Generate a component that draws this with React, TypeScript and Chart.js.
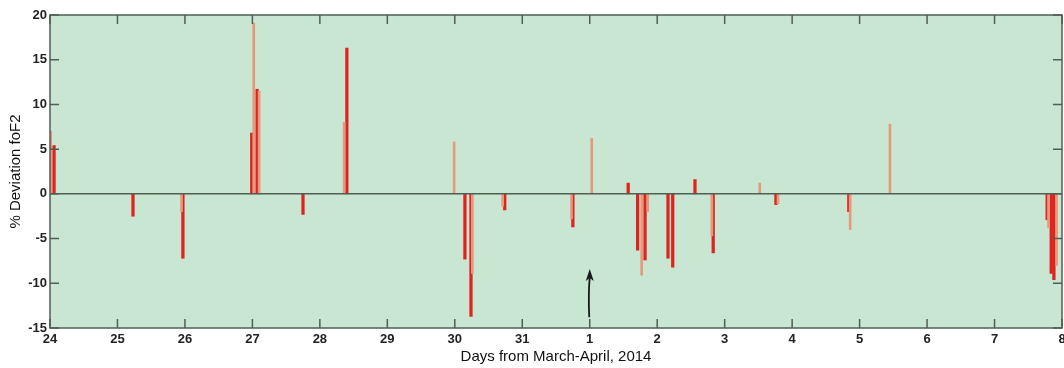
import React, { useEffect, useRef } from "react";
import { Chart, registerables } from "chart.js";

Chart.register(...registerables);

// Day labels for x = 0 .. 15 (0 = 24 March 2014)
const dayLabels = ["24", "25", "26", "27", "28", "29", "30", "31", "1", "2", "3", "4", "5", "6", "7", "8"];
const yTicks = [-15, -10, -5, 0, 5, 10, 15, 20];

// Strong red deviations (time in days from 24 March, value in %)
const redTimes = [0.06, 1.23, 1.97, 2.99, 3.07, 3.75, 4.40, 6.15, 6.24, 6.74, 7.75, 8.57, 8.71, 8.82, 9.16, 9.23, 9.56, 9.83, 10.76, 11.84, 14.78, 14.84, 14.88];
const redValues = [5.4, -2.5, -7.2, 6.8, 11.7, -2.3, 16.3, -7.3, -13.7, -1.8, -3.7, 1.2, -6.3, -7.4, -7.2, -8.2, 1.6, -6.6, -1.2, -2.0, -2.9, -8.9, -9.6];

// Lighter (salmon) deviations
const lightTimes = [0.01, 1.95, 3.02, 3.10, 4.36, 5.99, 6.26, 6.71, 7.73, 8.03, 8.77, 8.86, 9.81, 10.52, 10.79, 11.86, 12.45, 14.80, 14.92];
const lightValues = [7.0, -2.0, 19.1, 11.5, 8.0, 5.8, -8.9, -1.4, -2.8, 6.2, -9.1, -2.0, -4.7, 1.2, -1.1, -4.0, 7.8, -3.8, -8.0];

// Arrow marking 1 April
const arrowDay = 8;
const arrowFrom = -13.8;
const arrowTo = -8.4;

const BG = "#c9e6d3";
const AXIS = "#4f5f53";
const RED = "#e0231e";
const LIGHT = "#e69a7c";

const framePlugin = {
  id: "frame",
  beforeDatasetsDraw(chart: any) {
    const { ctx, chartArea } = chart;
    ctx.save();
    ctx.fillStyle = BG;
    ctx.fillRect(chartArea.left, chartArea.top, chartArea.right - chartArea.left, chartArea.bottom - chartArea.top);
    ctx.restore();
  },
  afterDatasetsDraw(chart: any) {
    const { ctx, chartArea, scales } = chart;
    const { left, right, top, bottom } = chartArea;
    const xs = scales.x;
    const ys = scales.y;
    ctx.save();
    ctx.strokeStyle = AXIS;
    ctx.lineWidth = 1.5;
    // zero line
    const y0 = ys.getPixelForValue(0);
    ctx.beginPath();
    ctx.moveTo(left, y0);
    ctx.lineTo(right, y0);
    ctx.stroke();
    // box
    ctx.strokeRect(left, top, right - left, bottom - top);
    // inside ticks
    const tl = 9;
    ctx.beginPath();
    for (let i = 0; i < dayLabels.length; i++) {
      const px = xs.getPixelForValue(i);
      ctx.moveTo(px, bottom);
      ctx.lineTo(px, bottom - tl);
      ctx.moveTo(px, top);
      ctx.lineTo(px, top + tl);
    }
    for (const v of yTicks) {
      const py = ys.getPixelForValue(v);
      ctx.moveTo(left, py);
      ctx.lineTo(left + tl, py);
      ctx.moveTo(right, py);
      ctx.lineTo(right - tl, py);
    }
    ctx.stroke();
    // arrow
    const ax = xs.getPixelForValue(arrowDay);
    const ay1 = ys.getPixelForValue(arrowFrom);
    const ay2 = ys.getPixelForValue(arrowTo);
    ctx.strokeStyle = "#1a1a1a";
    ctx.fillStyle = "#1a1a1a";
    ctx.lineWidth = 1.8;
    ctx.beginPath();
    ctx.moveTo(ax - 0.5, ay1);
    ctx.quadraticCurveTo(ax - 1.5, (ay1 + ay2) / 2, ax, ay2 + 8);
    ctx.stroke();
    ctx.beginPath();
    ctx.moveTo(ax, ay2);
    ctx.lineTo(ax - 4, ay2 + 12);
    ctx.lineTo(ax, ay2 + 9);
    ctx.lineTo(ax + 4, ay2 + 12);
    ctx.closePath();
    ctx.fill();
    ctx.restore();
  },
};

export default function App() {
  const ref = useRef<HTMLCanvasElement | null>(null);
  useEffect(() => {
    if (!ref.current) return;
    const chart = new Chart(ref.current, {
      type: "bar",
      data: {
        datasets: [
          {
            label: "light",
            data: lightTimes.map((t, i) => ({ x: t, y: lightValues[i] })),
            backgroundColor: LIGHT,
            barThickness: 2,
            grouped: false,
          } as any,
          {
            label: "red",
            data: redTimes.map((t, i) => ({ x: t, y: redValues[i] })),
            backgroundColor: RED,
            barThickness: 2.6,
            grouped: false,
          } as any,
        ],
      },
      options: {
        animation: false,
        responsive: false,
        maintainAspectRatio: false,
        layout: { padding: { left: 0, right: 2, top: 15, bottom: 0 } },
        plugins: { legend: { display: false }, tooltip: { enabled: false } },
        scales: {
          x: {
            type: "linear",
            min: 0,
            max: 15,
            offset: false,
            grid: { display: false, offset: false, drawTicks: false },
            border: { display: false },
            ticks: {
              stepSize: 1,
              autoSkip: false,
              maxRotation: 0,
              padding: 4,
              color: "#222",
              font: { family: "Liberation Sans", size: 13, weight: "bold" },
              callback: (v: any) => dayLabels[Number(v)] ?? "",
            },
            title: {
              display: true,
              text: "Days from March-April, 2014",
              color: "#111",
              font: { family: "Liberation Sans", size: 15 },
              padding: { top: 0, bottom: 2 },
            },
            afterFit: (s: any) => {
              s.height = 40;
              s.paddingLeft = 0;
              s.paddingRight = 0;
            },
          },
          y: {
            min: -15,
            max: 20,
            grid: { display: false, drawTicks: false },
            border: { display: false },
            ticks: {
              stepSize: 5,
              padding: 3,
              color: "#222",
              font: { family: "Liberation Sans", size: 13, weight: "bold" },
            },
            title: {
              display: true,
              text: "% Deviation foF2",
              color: "#111",
              font: { family: "Liberation Sans", size: 15 },
              padding: { top: 7, bottom: 0 },
            },
            afterFit: (s: any) => {
              s.width = 50;
              s.paddingTop = 0;
              s.paddingBottom = 0;
            },
          },
        },
      },
      plugins: [framePlugin],
    });
    return () => chart.destroy();
  }, []);
  return (
    <div style={{ position: "absolute", left: 0, top: 0, width: 1064, height: 368, background: "#fff" }}>
      <canvas ref={ref} width={1064} height={368} style={{ width: 1064, height: 368 }} />
    </div>
  );
}
